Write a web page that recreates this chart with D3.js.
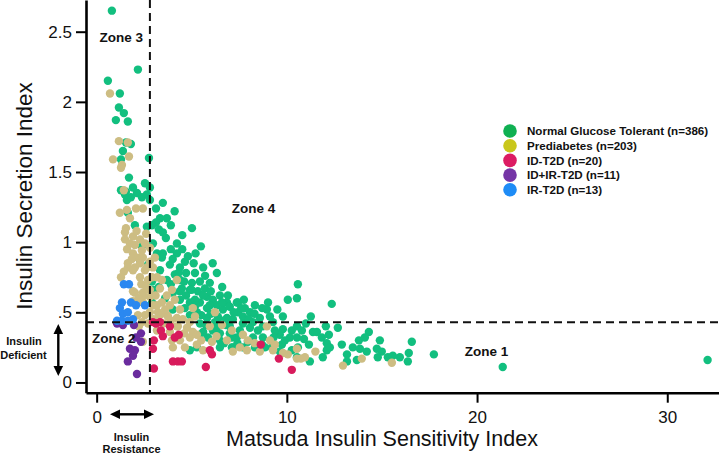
<!DOCTYPE html>
<html>
<head>
<meta charset="utf-8">
<script src="https://cdn.jsdelivr.net/npm/d3@7"></script>
<style>
  html, body { margin: 0; padding: 0; background: #fff; }
  svg { display: block; font-family: "Liberation Sans", Arial, sans-serif; }
</style>
</head>
<body>
<div id="vis"></div>
<script>
// groups, legend order
let groups = ["Normal Glucose Tolerant (n=386)", "Prediabetes (n=203)", "ID-T2D (n=20)", "ID+IR-T2D (n=11)", "IR-T2D (n=13)"]

// [matsuda, secretion]
let ngt = [
  [0.80,2.65],[2.17,2.23],[0.59,2.15],[1.22,2.06],[1.17,1.96],[1.43,1.92],[1.01,1.87],[1.64,1.86],
  [1.54,1.71],[1.80,1.70],[1.38,1.65],[1.28,1.59],[2.75,1.60],[1.70,1.46],[2.54,1.42],[2.80,1.39],
  [1.28,1.37],[1.54,1.36],[1.91,1.39],[2.12,1.35],[1.59,1.30],[1.80,1.32],[2.38,1.32],[2.64,1.34],
  [1.49,1.34],[3.12,1.24],[3.48,1.28],[1.64,1.21],[3.33,1.17],[3.69,1.17],[3.12,1.14],[2.64,1.11],
  [2.01,1.12],[5.01,1.10],[3.27,1.09],[3.64,1.03],[4.22,0.99],[5.48,0.97],[2.96,0.99],[2.38,0.97],
  [3.48,1.07],[3.48,0.92],[4.22,0.92],[3.85,0.84],[4.38,0.82],[4.70,0.78],[5.17,0.78],[6.32,0.78],
  [5.43,0.72],[5.01,0.71],[5.32,0.65],[4.90,0.66],[4.48,0.67],[4.01,0.64],[3.27,0.68],[5.80,0.61],
  [6.11,0.59],[6.48,0.62],[6.85,0.57],[7.37,0.57],[5.80,0.53],[6.32,0.55],[6.64,0.52],[7.00,0.54],
  [4.90,0.48],[5.27,0.50],[5.80,0.46],[6.37,0.47],[6.85,0.46],[7.16,0.45],[7.00,0.40],[3.17,0.92],
  [3.43,0.89],[3.69,0.73],[4.38,0.73],[4.38,0.65],[4.90,0.57],[5.43,0.57],[5.95,0.55],[6.48,0.35],
  [6.11,0.37],[5.43,0.42],[5.74,0.41],[5.43,0.34],[5.85,0.32],[6.48,0.30],[5.27,0.25],[4.90,0.23],
  [6.48,0.25],[7.11,0.25],[10.58,0.70],[10.05,0.59],[10.53,0.60],[12.36,0.56],[7.43,0.57],[7.74,0.59],
  [9.01,0.57],[8.95,0.52],[8.06,0.50],[7.69,0.47],[8.58,0.46],[9.79,0.47],[11.26,0.47],[7.69,0.42],
  [8.22,0.43],[9.27,0.43],[7.53,0.37],[8.06,0.39],[8.74,0.40],[9.79,0.38],[10.26,0.37],[10.53,0.40],
  [10.79,0.37],[11.37,0.36],[11.58,0.36],[12.05,0.40],[12.68,0.39],[14.31,0.36],[7.37,0.32],[8.22,0.32],
  [8.74,0.32],[9.63,0.34],[10.16,0.32],[10.53,0.32],[11.84,0.32],[12.21,0.34],[11.16,0.27],[12.10,0.28],
  [12.89,0.27],[13.47,0.25],[13.79,0.30],[14.10,0.32],[14.89,0.30],[16.57,0.29],[7.16,0.25],[7.69,0.25],
  [8.32,0.25],[8.85,0.25],[9.21,0.25],[9.74,0.27],[10.26,0.23],[10.58,0.25],[12.10,0.23],[12.26,0.25],
  [13.16,0.20],[13.84,0.24],[14.20,0.22],[14.73,0.24],[14.99,0.22],[16.41,0.21],[9.63,0.22],[10.53,0.18],
  [11.89,0.18],[13.16,0.15],[13.68,0.16],[14.78,0.18],[15.31,0.18],[15.57,0.19],[15.94,0.18],[16.36,0.15],
  [11.21,0.15],[17.73,0.20],[21.35,0.11],[32.12,0.16],[2.28,0.87],[2.70,0.84],[2.91,0.72],[2.91,0.57],
  [3.01,0.66],[4.11,0.77],[4.64,0.86],[3.33,0.80],[4.38,0.59],[4.64,0.53],[7.79,0.53],[8.32,0.55],
  [8.48,0.37],[7.95,0.29],[9.37,0.37],[9.90,0.30],[7.43,0.50],[9.11,0.47],[5.17,0.59],[5.69,0.67],
  [5.95,0.71],[6.59,0.57],[6.22,0.43],[6.80,0.41],[7.11,0.32],[8.69,0.27],[2.80,1.30],[2.91,1.12],
  [3.90,0.95],[4.50,0.95],[4.00,0.88],[4.80,0.90],[5.10,0.85],[5.60,0.82],[4.30,0.78],[3.60,0.60],
  [4.00,0.52],[4.70,0.62],[5.60,0.62],[5.20,0.55],[6.00,0.65],[6.90,0.62],[7.20,0.50],[6.60,0.44],
  [5.50,0.48],[6.00,0.49],[7.60,0.53],[8.30,0.49],[8.70,0.53],[9.50,0.52],[9.30,0.32],[10.90,0.31],
  [11.00,0.42],[8.00,0.45],[7.00,0.35],[6.30,0.39],[5.60,0.36],[6.70,0.28],[7.40,0.28],[5.00,0.66],
  [3.90,0.70],[4.60,0.72],[5.70,0.76],[6.60,0.68],[6.10,0.85],[5.20,0.92],[4.50,1.05],[3.90,1.12],
  [4.10,1.22]
]
let prediabetes = [
  [0.70,2.06],[1.17,1.72],[1.64,1.71],[0.86,1.59],[1.33,1.55],[1.28,1.53],[1.70,1.61],[1.43,1.37],
  [1.59,1.23],[2.07,1.24],[2.43,1.24],[1.22,1.21],[1.54,1.10],[1.75,1.17],[1.49,1.07],[1.91,1.04],
  [2.28,1.02],[2.54,0.99],[2.80,0.96],[1.49,1.02],[1.75,0.99],[2.01,0.98],[1.91,0.92],[2.17,0.89],
  [2.43,0.89],[2.80,0.86],[2.01,0.82],[2.54,0.80],[2.96,0.82],[1.43,0.79],[1.64,0.82],[1.91,0.80],
  [2.28,0.75],[2.70,0.73],[3.17,0.75],[3.43,0.73],[4.22,0.73],[1.91,0.65],[2.43,0.64],[2.80,0.66],
  [3.33,0.67],[3.69,0.62],[3.96,0.66],[2.43,0.57],[2.96,0.55],[3.43,0.57],[3.85,0.55],[4.11,0.59],
  [2.80,0.50],[3.22,0.50],[3.69,0.48],[4.38,0.52],[5.06,0.53],[4.53,0.45],[4.22,0.40],[6.22,0.50],
  [1.28,0.75],[2.80,0.61],[1.64,0.85],[2.28,0.85],[2.64,0.82],[2.91,0.75],[3.17,0.55],[2.54,0.48],
  [3.33,0.48],[3.75,0.47],[4.22,0.46],[4.90,0.43],[5.17,0.47],[3.85,0.36],[4.27,0.40],[4.75,0.39],
  [5.06,0.36],[3.96,0.30],[4.38,0.30],[4.90,0.32],[5.27,0.34],[4.01,0.25],[4.64,0.25],[5.27,0.27],
  [6.85,0.30],[7.16,0.22],[5.59,0.23],[3.17,0.37],[2.22,0.40],[2.43,0.29],[2.01,0.64],[2.49,0.62],
  [2.17,0.48],[2.38,0.43],[7.11,0.37],[7.69,0.34],[7.95,0.30],[7.53,0.25],[7.90,0.23],[8.58,0.22],
  [8.95,0.40],[9.11,0.30],[9.37,0.27],[9.27,0.23],[10.05,0.20],[10.53,0.24],[10.53,0.17],[10.74,0.17],
  [10.95,0.18],[12.95,0.12],[13.94,0.17],[15.52,0.14],[5.95,0.40],[6.59,0.41],[6.06,0.29],[2.38,0.94],
  [3.06,0.89],[1.60,0.95],[2.10,1.08],[2.60,1.06],[1.85,0.88],[2.35,0.70],[2.60,0.68],[3.10,0.62],
  [3.60,0.52],[3.00,0.45],[2.70,0.42],[1.90,0.58],[2.20,0.60],[3.50,0.42],[4.60,0.35],[5.50,0.30],
  [6.30,0.33],[8.30,0.28],[9.80,0.21],[11.50,0.22],[3.90,0.44]
]
let idT2d = [
  [2.96,0.43],[3.12,0.42],[3.33,0.43],[3.85,0.40],[3.38,0.37],[3.01,0.30],[3.48,0.33],[4.11,0.32],
  [4.32,0.34],[2.96,0.24],[4.01,0.15],[4.27,0.15],[4.48,0.15],[3.01,0.10],[5.74,0.11],[6.06,0.20],
  [5.95,0.23],[8.63,0.27],[9.58,0.17],[10.26,0.09]
]
let idIrT2d = [
  [1.07,0.42],[1.38,0.41],[1.96,0.41],[2.33,0.35],[2.07,0.32],[2.33,0.29],[1.75,0.24],[2.01,0.23],
  [1.91,0.19],[1.64,0.15],[2.12,0.06]
]
let irT2d = [
  [1.43,0.70],[1.70,0.70],[1.33,0.57],[1.80,0.57],[2.07,0.55],[2.54,0.55],[1.38,0.49],[1.64,0.50],
  [1.07,0.44],[1.33,0.44],[1.64,0.44],[1.91,0.45],[1.22,0.53]
]

let xTicks = [0, 10, 20, 30]
let yTicks = [0, 0.5, 1, 1.5, 2, 2.5]
let yTickLabels = ["0", ".5", "1", "1.5", "2", "2.5"]
let msiCut = 2.8
let isiCut = 0.43

let dotColors = ["#12bf7f", "#cdbd83", "#d81b5c", "#6a2c9e", "#2b88f0"]
let legendColors = ["#0fb052", "#c9c71b", "#dc1c63", "#7535a6", "#1e8cf6"]

let W = 719, H = 454

let svg = d3.select("#vis").append("svg")
            .attr("width", W)
            .attr("height", H)

let x = d3.scaleLinear().domain([-0.56, 32.72]).range([86, 719])
let y = d3.scaleLinear().domain([-0.073, 2.726]).range([392.7, 0])

// points
let series = [ngt, prediabetes, idT2d, idIrT2d, irT2d]
let dots = svg.append("g")
series.forEach((pts, i) => {
    dots.append("g")
        .attr("fill", dotColors[i])
        .selectAll("circle")
        .data(pts)
        .join("circle")
        .attr("cx", d => x(d[0]))
        .attr("cy", d => y(d[1]))
        .attr("r", 4.2)
})

// cutoff lines
svg.append("line")
    .attr("x1", x(msiCut)).attr("x2", x(msiCut))
    .attr("y1", 0).attr("y2", y.range()[0])
    .attr("stroke", "#111").attr("stroke-width", 2)
    .attr("stroke-dasharray", "8,5")
svg.append("line")
    .attr("x1", x.range()[0]).attr("x2", W)
    .attr("y1", y(isiCut)).attr("y2", y(isiCut))
    .attr("stroke", "#111").attr("stroke-width", 2)
    .attr("stroke-dasharray", "8,5")

// axes
let xAxis = svg.append("g")
    .attr("transform", `translate(0, ${y.range()[0]})`)
    .call(d3.axisBottom(x).tickValues(xTicks).tickSize(10).tickSizeOuter(0).tickPadding(8))
let yAxis = svg.append("g")
    .attr("transform", `translate(${x.range()[0]}, 0)`)
    .call(d3.axisLeft(y).tickValues(yTicks).tickSize(10).tickSizeOuter(0).tickPadding(4)
        .tickFormat((d, i) => yTickLabels[i]))

for (let ax of [xAxis, yAxis]) {
    ax.attr("font-family", null).attr("font-size", null)
    ax.select(".domain").attr("stroke", "#000").attr("stroke-width", 2.6)
    ax.selectAll(".tick line").attr("stroke", "#000").attr("stroke-width", 2)
    ax.selectAll(".tick text").attr("fill", "#111").style("font-size", "17px")
}

svg.append("text")
    .attr("x", 382).attr("y", 446)
    .attr("text-anchor", "middle")
    .style("font-size", "21.5px").attr("fill", "#111")
    .text("Matsuda Insulin Sensitivity Index")
svg.append("text")
    .attr("transform", "translate(32, 196) rotate(-90)")
    .attr("text-anchor", "middle")
    .style("font-size", "22.5px").attr("fill", "#111")
    .text("Insulin Secretion Index")

// zone labels
let zones = [["Zone 3", 0.15, 2.43], ["Zone 4", 7.1, 1.21], ["Zone 2", -0.25, 0.28], ["Zone 1", 19.35, 0.19]]
svg.append("g")
    .selectAll("text")
    .data(zones)
    .join("text")
    .attr("x", d => x(d[1]))
    .attr("y", d => y(d[2]))
    .style("font-size", "13.5px").style("font-weight", "bold").attr("fill", "#111")
    .text(d => d[0])

// insulin deficient / resistance arrows
let arrow = (x1, y1, x2, y2) => {
    svg.append("line")
        .attr("x1", x1).attr("y1", y1).attr("x2", x2).attr("y2", y2)
        .attr("stroke", "#000").attr("stroke-width", 2.4)
}
let head = (pts) => svg.append("path").attr("d", "M" + pts.join("L") + "Z").attr("fill", "#000")

arrow(58.3, 332, 58.3, 368)
head([[58.3, 324], [53.5, 334], [63.1, 334]])
head([[58.3, 376], [53.5, 366], [63.1, 366]])
arrow(118, 414.3, 146, 414.3)
head([[110, 414.3], [120, 409.5], [120, 419.1]])
head([[154, 414.3], [144, 409.5], [144, 419.1]])

let smallLabels = [["Insulin", 24, 345], ["Deficient", 23.5, 358.5], ["Insulin", 131.5, 440.5], ["Resistance", 131.5, 452.5]]
svg.append("g")
    .selectAll("text")
    .data(smallLabels)
    .join("text")
    .attr("x", d => d[1]).attr("y", d => d[2])
    .attr("text-anchor", "middle")
    .style("font-size", "11px").style("font-weight", "bold").attr("fill", "#111")
    .text(d => d[0])

// legend
let legend = svg.append("g").attr("transform", "translate(510, 131)")
let rows = legend.selectAll("g")
    .data(groups)
    .join("g")
    .attr("transform", (d, i) => `translate(0, ${i * 14.7})`)
rows.append("circle").attr("r", 6.8).attr("fill", (d, i) => legendColors[i])
rows.append("text")
    .attr("x", 17).attr("y", 4.2)
    .style("font-size", "11.6px").style("font-weight", "bold").attr("fill", "#111")
    .text(d => d)
</script>
</body>
</html>
